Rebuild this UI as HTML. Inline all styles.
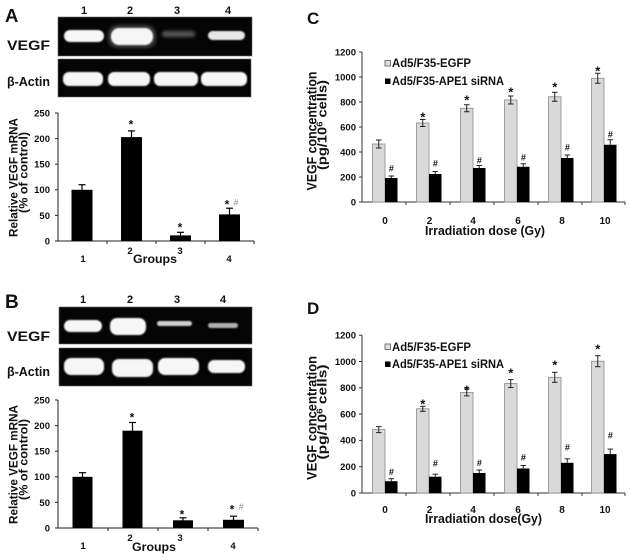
<!DOCTYPE html>
<html><head><meta charset="utf-8"><style>
html,body{margin:0;padding:0;background:#fff;width:630px;height:559px;overflow:hidden}
svg{display:block}
text{font-family:"Liberation Sans",Arial,sans-serif;font-weight:bold;fill:#111}
.t{font-size:9.5px}
.h{font-size:9px;font-style:italic;fill:#888;font-weight:normal}
</style></head><body>
<svg width="630" height="559" viewBox="0 0 630 559" xmlns="http://www.w3.org/2000/svg">
<defs>
<filter id="b1" x="-20%" y="-50%" width="140%" height="200%"><feGaussianBlur stdDeviation="0.9"/></filter>
<filter id="b2" x="-20%" y="-50%" width="140%" height="200%"><feGaussianBlur stdDeviation="1.6"/></filter>
</defs>
<rect width="630" height="559" fill="#fff"/>

<!-- ========== PANEL A ========== -->
<text x="5" y="22" font-size="18.5">A</text>
<g font-size="11" text-anchor="middle">
<text x="84" y="14">1</text><text x="130" y="14">2</text><text x="177" y="14">3</text><text x="228" y="14">4</text>
</g>
<text x="7" y="50" font-size="14" textLength="43" lengthAdjust="spacingAndGlyphs">VEGF</text>
<text x="7" y="86" font-size="13" textLength="43" lengthAdjust="spacingAndGlyphs">β-Actin</text>
<rect x="58" y="17" width="194" height="39" fill="#050505" stroke="#666" stroke-width="0.6"/>
<rect x="58" y="59" width="193" height="38" fill="#050505" stroke="#666" stroke-width="0.6"/>
<rect x="108" y="25" width="48" height="23" rx="10" fill="#777" opacity="0.5" filter="url(#b2)"/>
<rect x="162" y="31" width="33" height="6" rx="3" fill="#555" filter="url(#b2)"/>
<g fill="#f6f6f6" filter="url(#b1)">
<rect x="64" y="30" width="40" height="12" rx="6"/>
<rect x="111" y="28" width="42" height="17" rx="8"/>
<rect x="208" y="31" width="37" height="9" rx="4.5" fill="#e6e6e6"/>
<rect x="63" y="72" width="40" height="14" rx="6"/>
<rect x="108" y="72" width="42" height="14" rx="6"/>
<rect x="154" y="72" width="44" height="14" rx="6"/>
<rect x="201" y="72" width="46" height="14" rx="6"/>
</g>

<!-- A chart -->
<g stroke="#222" stroke-width="1" fill="none">
<line x1="58" y1="113" x2="58" y2="241"/>
<line x1="58" y1="241" x2="254" y2="241"/>
<line x1="55" y1="113" x2="58" y2="113"/><line x1="55" y1="138.6" x2="58" y2="138.6"/><line x1="55" y1="164.2" x2="58" y2="164.2"/>
<line x1="55" y1="189.8" x2="58" y2="189.8"/><line x1="55" y1="215.4" x2="58" y2="215.4"/><line x1="55" y1="241" x2="58" y2="241"/>
<line x1="107" y1="241" x2="107" y2="244"/><line x1="156" y1="241" x2="156" y2="244"/><line x1="205" y1="241" x2="205" y2="244"/><line x1="254" y1="241" x2="254" y2="244"/>
</g>
<g class="t" text-anchor="end">
<text x="50" y="116.5">250</text><text x="50" y="142">200</text><text x="50" y="167.5">150</text>
<text x="50" y="193">100</text><text x="50" y="219">50</text><text x="50" y="244.5">0</text>
</g>
<g fill="#000">
<rect x="71.5" y="189.8" width="21" height="51.2"/>
<rect x="121" y="137.1" width="21" height="103.9"/>
<rect x="170" y="235.4" width="21" height="5.6"/>
<rect x="219" y="214.4" width="21" height="26.6"/>
</g>
<g stroke="#000" stroke-width="1.2">
<line x1="82" y1="184.7" x2="82" y2="190"/><line x1="78.5" y1="184.7" x2="85.5" y2="184.7"/>
<line x1="131.5" y1="130.9" x2="131.5" y2="138"/><line x1="128" y1="130.9" x2="135" y2="130.9"/>
<line x1="180.5" y1="232.3" x2="180.5" y2="236"/><line x1="177" y1="232.3" x2="184" y2="232.3"/>
<line x1="229.5" y1="208.2" x2="229.5" y2="215"/><line x1="226" y1="208.2" x2="233" y2="208.2"/>
</g>
<g font-size="12" text-anchor="middle">
<text x="131" y="128.5">*</text><text x="180" y="231.5">*</text><text x="227" y="208.5">*</text>
</g>
<text class="h" x="236" y="205.5" text-anchor="middle">#</text>
<text transform="translate(17.5,177.5) rotate(-90)" font-size="11.5" text-anchor="middle" textLength="119" lengthAdjust="spacingAndGlyphs">Relative VEGF mRNA</text>
<text transform="translate(27.5,172.5) rotate(-90)" font-size="11.5" text-anchor="middle" textLength="81" lengthAdjust="spacingAndGlyphs">(% of control)</text>
<g font-size="9.5" text-anchor="middle">
<text x="83" y="262">1</text><text x="130" y="254">2</text><text x="180" y="254">3</text><text x="229" y="262">4</text>
</g>
<text x="155" y="263" font-size="12" text-anchor="middle" textLength="44" lengthAdjust="spacingAndGlyphs">Groups</text>

<!-- ========== PANEL B ========== -->
<text x="5" y="308" font-size="19">B</text>
<g font-size="11" text-anchor="middle">
<text x="83" y="303">1</text><text x="130" y="303">2</text><text x="177" y="303">3</text><text x="223" y="303">4</text>
</g>
<text x="7" y="341" font-size="14" textLength="43" lengthAdjust="spacingAndGlyphs">VEGF</text>
<text x="7" y="376" font-size="13" textLength="43" lengthAdjust="spacingAndGlyphs">β-Actin</text>
<rect x="59" y="307" width="193" height="37" fill="#050505" stroke="#666" stroke-width="0.6"/>
<rect x="59" y="348" width="193" height="38" fill="#050505" stroke="#666" stroke-width="0.6"/>
<g fill="#f6f6f6" filter="url(#b1)">
<rect x="64" y="320" width="38" height="12" rx="6"/>
<rect x="110" y="318" width="36" height="17" rx="7"/>
<rect x="157" y="321" width="35" height="5" rx="2.5" fill="#cfcfcf"/>
<rect x="208" y="323" width="30" height="5" rx="2.5" fill="#b0b0b0"/>
<rect x="64" y="358" width="40" height="17" rx="7"/>
<rect x="112" y="359" width="41" height="18" rx="7"/>
<rect x="158" y="358" width="41" height="17" rx="7"/>
<rect x="208" y="360" width="37" height="13" rx="6"/>
</g>

<!-- B chart -->
<g stroke="#222" stroke-width="1" fill="none">
<line x1="58" y1="400" x2="58" y2="528"/>
<line x1="58" y1="528" x2="258" y2="528"/>
<line x1="55" y1="400" x2="58" y2="400"/><line x1="55" y1="425.6" x2="58" y2="425.6"/><line x1="55" y1="451.2" x2="58" y2="451.2"/>
<line x1="55" y1="476.8" x2="58" y2="476.8"/><line x1="55" y1="502.4" x2="58" y2="502.4"/><line x1="55" y1="528" x2="58" y2="528"/>
<line x1="108" y1="528" x2="108" y2="531"/><line x1="158" y1="528" x2="158" y2="531"/><line x1="208" y1="528" x2="208" y2="531"/><line x1="258" y1="528" x2="258" y2="531"/>
</g>
<g class="t" text-anchor="end">
<text x="50" y="403.5">250</text><text x="50" y="429">200</text><text x="50" y="454.5">150</text>
<text x="50" y="480">100</text><text x="50" y="506">50</text><text x="50" y="531.5">0</text>
</g>
<g fill="#000">
<rect x="72.5" y="476.8" width="20" height="51.2"/>
<rect x="122.5" y="430.7" width="20" height="97.3"/>
<rect x="173" y="520.3" width="20" height="7.7"/>
<rect x="223" y="519.8" width="21" height="8.2"/>
</g>
<g stroke="#000" stroke-width="1.2">
<line x1="82.5" y1="472.7" x2="82.5" y2="477"/><line x1="79" y1="472.7" x2="86" y2="472.7"/>
<line x1="132.5" y1="422.5" x2="132.5" y2="431"/><line x1="129" y1="422.5" x2="136" y2="422.5"/>
<line x1="183" y1="517.8" x2="183" y2="521"/><line x1="179.5" y1="517.8" x2="186.5" y2="517.8"/>
<line x1="233.5" y1="516.2" x2="233.5" y2="520"/><line x1="230" y1="516.2" x2="237" y2="516.2"/>
</g>
<g font-size="12" text-anchor="middle">
<text x="132" y="421.5">*</text><text x="182" y="518.5">*</text><text x="232" y="513.5">*</text>
</g>
<text class="h" x="241" y="510" text-anchor="middle">#</text>
<text transform="translate(17.5,464.5) rotate(-90)" font-size="11.5" text-anchor="middle" textLength="119" lengthAdjust="spacingAndGlyphs">Relative VEGF mRNA</text>
<text transform="translate(27.5,459.5) rotate(-90)" font-size="11.5" text-anchor="middle" textLength="81" lengthAdjust="spacingAndGlyphs">(% of control)</text>
<g font-size="9.5" text-anchor="middle">
<text x="83" y="549">1</text><text x="130" y="541">2</text><text x="180" y="541">3</text><text x="233" y="549">4</text>
</g>
<text x="154" y="551" font-size="12" text-anchor="middle" textLength="44" lengthAdjust="spacingAndGlyphs">Groups</text>

<!-- ========== PANEL C ========== -->
<text x="307" y="24" font-size="17">C</text>
<g stroke="#333" stroke-width="1" fill="none">
<line x1="362" y1="52" x2="362" y2="202"/>
<line x1="362" y1="202" x2="625" y2="202"/>
<line x1="359" y1="52" x2="362" y2="52"/><line x1="359" y1="77" x2="362" y2="77"/><line x1="359" y1="102" x2="362" y2="102"/>
<line x1="359" y1="127" x2="362" y2="127"/><line x1="359" y1="152" x2="362" y2="152"/><line x1="359" y1="177" x2="362" y2="177"/><line x1="359" y1="202" x2="362" y2="202"/>
<line x1="406" y1="202" x2="406" y2="205"/><line x1="450" y1="202" x2="450" y2="205"/><line x1="494" y1="202" x2="494" y2="205"/>
<line x1="538" y1="202" x2="538" y2="205"/><line x1="582" y1="202" x2="582" y2="205"/><line x1="625" y1="202" x2="625" y2="205"/>
</g>
<g class="t" text-anchor="end">
<text x="356" y="55.3">1200</text><text x="356" y="80.3">1000</text><text x="356" y="105.3">800</text><text x="356" y="130.3">600</text>
<text x="356" y="155.3">400</text><text x="356" y="180.3">200</text><text x="356" y="205.3">0</text>
</g>
<g fill="#d9d9d9" stroke="#8a8a8a" stroke-width="0.8">
<rect x="372.5" y="144" width="12.5" height="58"/>
<rect x="416.5" y="123" width="12.5" height="79"/>
<rect x="460.5" y="108.25" width="12.5" height="93.75"/>
<rect x="504.5" y="100" width="12.5" height="102"/>
<rect x="548.5" y="96.75" width="12.5" height="105.25"/>
<rect x="591.5" y="78.25" width="12.5" height="123.75"/>
</g>
<g fill="#000">
<rect x="385" y="178" width="12.5" height="24"/>
<rect x="429" y="174" width="12.5" height="28"/>
<rect x="473" y="168" width="12.5" height="34"/>
<rect x="517" y="166.75" width="12.5" height="35.25"/>
<rect x="561" y="158" width="12.5" height="44"/>
<rect x="604" y="144.75" width="12.5" height="57.25"/>
</g>
<g stroke="#222" stroke-width="1">
<line x1="378.75" y1="140" x2="378.75" y2="148"/><line x1="376" y1="140" x2="381.5" y2="140"/><line x1="376" y1="148" x2="381.5" y2="148"/>
<line x1="422.75" y1="119.5" x2="422.75" y2="126.5"/><line x1="420" y1="119.5" x2="425.5" y2="119.5"/><line x1="420" y1="126.5" x2="425.5" y2="126.5"/>
<line x1="466.75" y1="104.75" x2="466.75" y2="111.75"/><line x1="464" y1="104.75" x2="469.5" y2="104.75"/><line x1="464" y1="111.75" x2="469.5" y2="111.75"/>
<line x1="510.75" y1="96" x2="510.75" y2="104"/><line x1="508" y1="96" x2="513.5" y2="96"/><line x1="508" y1="104" x2="513.5" y2="104"/>
<line x1="554.75" y1="92.25" x2="554.75" y2="101.25"/><line x1="552" y1="92.25" x2="557.5" y2="92.25"/><line x1="552" y1="101.25" x2="557.5" y2="101.25"/>
<line x1="597.75" y1="73.25" x2="597.75" y2="83.25"/><line x1="595" y1="73.25" x2="600.5" y2="73.25"/><line x1="595" y1="83.25" x2="600.5" y2="83.25"/>
<line x1="391.25" y1="176" x2="391.25" y2="178"/><line x1="388.5" y1="176" x2="394" y2="176"/>
<line x1="435.25" y1="171.5" x2="435.25" y2="174"/><line x1="432.5" y1="171.5" x2="438" y2="171.5"/>
<line x1="479.25" y1="165.5" x2="479.25" y2="168"/><line x1="476.5" y1="165.5" x2="482" y2="165.5"/>
<line x1="523.25" y1="163.75" x2="523.25" y2="166.75"/><line x1="520.5" y1="163.75" x2="526" y2="163.75"/>
<line x1="567.25" y1="155" x2="567.25" y2="158"/><line x1="564.5" y1="155" x2="570" y2="155"/>
<line x1="610.25" y1="139.75" x2="610.25" y2="144.75"/><line x1="607.5" y1="139.75" x2="613" y2="139.75"/>
</g>
<g font-size="13" text-anchor="middle">
<text x="422.75" y="121.5">*</text><text x="466.75" y="104.5">*</text><text x="510.75" y="96.5">*</text>
<text x="554.75" y="91.5">*</text><text x="597.75" y="75.5">*</text>
</g>
<g class="h" text-anchor="middle">
<text x="391.25" y="171.3">#</text><text x="435.25" y="166.3">#</text><text x="479.25" y="163.3">#</text>
<text x="523.25" y="160.3">#</text><text x="567.25" y="150.3">#</text><text x="610.25" y="137.3">#</text>
</g>
<rect x="385" y="60.5" width="5.5" height="5.5" fill="#e0e0e0" stroke="#555" stroke-width="0.8"/>
<rect x="385" y="78.5" width="5.5" height="5.5" fill="#000"/>
<text x="392" y="67" font-size="11.5" textLength="79" lengthAdjust="spacingAndGlyphs">Ad5/F35-EGFP</text>
<text x="392" y="85" font-size="11.5" textLength="112" lengthAdjust="spacingAndGlyphs">Ad5/F35-APE1 siRNA</text>
<g font-size="10" text-anchor="middle">
<text x="385" y="224">0</text><text x="429.5" y="224">2</text><text x="473" y="224">4</text>
<text x="518" y="224">6</text><text x="562" y="224">8</text><text x="605" y="224">10</text>
</g>
<text x="485" y="235" font-size="13" text-anchor="middle" textLength="120" lengthAdjust="spacingAndGlyphs">Irradiation dose (Gy)</text>
<text transform="translate(316.5,131) rotate(-90)" font-size="13.5" text-anchor="middle" textLength="119" lengthAdjust="spacingAndGlyphs">VEGF concentration</text>
<text transform="translate(326.5,125) rotate(-90)" font-size="12.5" text-anchor="middle" textLength="90" lengthAdjust="spacingAndGlyphs">(pg/10<tspan font-size="8" dy="-4">6</tspan><tspan dy="4"> cells)</tspan></text>

<!-- ========== PANEL D ========== -->
<text x="307" y="314" font-size="17">D</text>
<g stroke="#333" stroke-width="1" fill="none">
<line x1="362" y1="335.2" x2="362" y2="493"/>
<line x1="362" y1="493" x2="625" y2="493"/>
<line x1="359" y1="335.2" x2="362" y2="335.2"/><line x1="359" y1="361.5" x2="362" y2="361.5"/><line x1="359" y1="387.8" x2="362" y2="387.8"/>
<line x1="359" y1="414.1" x2="362" y2="414.1"/><line x1="359" y1="440.4" x2="362" y2="440.4"/><line x1="359" y1="466.7" x2="362" y2="466.7"/><line x1="359" y1="493" x2="362" y2="493"/>
<line x1="406" y1="493" x2="406" y2="496"/><line x1="450" y1="493" x2="450" y2="496"/><line x1="494" y1="493" x2="494" y2="496"/>
<line x1="538" y1="493" x2="538" y2="496"/><line x1="582" y1="493" x2="582" y2="496"/><line x1="625" y1="493" x2="625" y2="496"/>
</g>
<g class="t" text-anchor="end">
<text x="356" y="338.5">1200</text><text x="356" y="364.8">1000</text><text x="356" y="391.1">800</text><text x="356" y="417.4">600</text>
<text x="356" y="443.7">400</text><text x="356" y="470">200</text><text x="356" y="496.3">0</text>
</g>
<g fill="#d9d9d9" stroke="#8a8a8a" stroke-width="0.8">
<rect x="372.5" y="429.6" width="12.5" height="63.4"/>
<rect x="416.5" y="408.8" width="12.5" height="84.2"/>
<rect x="460.5" y="392.4" width="12.5" height="100.6"/>
<rect x="504.5" y="383.6" width="12.5" height="109.4"/>
<rect x="548.5" y="377.3" width="12.5" height="115.7"/>
<rect x="591.5" y="361.2" width="12.5" height="131.8"/>
</g>
<g fill="#000">
<rect x="385" y="481.2" width="12.5" height="11.8"/>
<rect x="429" y="476.7" width="12.5" height="16.3"/>
<rect x="473" y="473" width="12.5" height="20"/>
<rect x="517" y="468.5" width="12.5" height="24.5"/>
<rect x="561" y="462.8" width="12.5" height="30.2"/>
<rect x="604" y="454.1" width="12.5" height="38.9"/>
</g>
<g stroke="#222" stroke-width="1">
<line x1="378.75" y1="426.6" x2="378.75" y2="432.6"/><line x1="376" y1="426.6" x2="381.5" y2="426.6"/><line x1="376" y1="432.6" x2="381.5" y2="432.6"/>
<line x1="422.75" y1="406.3" x2="422.75" y2="411.3"/><line x1="420" y1="406.3" x2="425.5" y2="406.3"/><line x1="420" y1="411.3" x2="425.5" y2="411.3"/>
<line x1="466.75" y1="388.9" x2="466.75" y2="395.9"/><line x1="464" y1="388.9" x2="469.5" y2="388.9"/><line x1="464" y1="395.9" x2="469.5" y2="395.9"/>
<line x1="510.75" y1="379.6" x2="510.75" y2="387.6"/><line x1="508" y1="379.6" x2="513.5" y2="379.6"/><line x1="508" y1="387.6" x2="513.5" y2="387.6"/>
<line x1="554.75" y1="372.3" x2="554.75" y2="382.3"/><line x1="552" y1="372.3" x2="557.5" y2="372.3"/><line x1="552" y1="382.3" x2="557.5" y2="382.3"/>
<line x1="597.75" y1="355.7" x2="597.75" y2="366.7"/><line x1="595" y1="355.7" x2="600.5" y2="355.7"/><line x1="595" y1="366.7" x2="600.5" y2="366.7"/>
<line x1="391.25" y1="478.7" x2="391.25" y2="481.2"/><line x1="388.5" y1="478.7" x2="394" y2="478.7"/>
<line x1="435.25" y1="474.2" x2="435.25" y2="476.7"/><line x1="432.5" y1="474.2" x2="438" y2="474.2"/>
<line x1="479.25" y1="470" x2="479.25" y2="473"/><line x1="476.5" y1="470" x2="482" y2="470"/>
<line x1="523.25" y1="465.5" x2="523.25" y2="468.5"/><line x1="520.5" y1="465.5" x2="526" y2="465.5"/>
<line x1="567.25" y1="458.8" x2="567.25" y2="462.8"/><line x1="564.5" y1="458.8" x2="570" y2="458.8"/>
<line x1="610.25" y1="449.1" x2="610.25" y2="454.1"/><line x1="607.5" y1="449.1" x2="613" y2="449.1"/>
</g>
<g font-size="13" text-anchor="middle">
<text x="422.75" y="408.5">*</text><text x="466.75" y="394.5">*</text><text x="510.75" y="377.5">*</text>
<text x="554.75" y="369.5">*</text><text x="597.75" y="353.5">*</text>
</g>
<g class="h" text-anchor="middle">
<text x="391.25" y="475">#</text><text x="435.25" y="466.3">#</text><text x="479.25" y="466">#</text>
<text x="523.25" y="460.3">#</text><text x="567.25" y="450.3">#</text><text x="610.25" y="438.3">#</text>
</g>
<rect x="385" y="344" width="5.5" height="5.5" fill="#e0e0e0" stroke="#555" stroke-width="0.8"/>
<rect x="385" y="361.5" width="5.5" height="5.5" fill="#000"/>
<text x="392" y="351" font-size="11.5" textLength="79" lengthAdjust="spacingAndGlyphs">Ad5/F35-EGFP</text>
<text x="392" y="368" font-size="11.5" textLength="112" lengthAdjust="spacingAndGlyphs">Ad5/F35-APE1 siRNA</text>
<g font-size="10" text-anchor="middle">
<text x="385" y="513">0</text><text x="429.5" y="513">2</text><text x="473" y="513">4</text>
<text x="518" y="513">6</text><text x="562" y="513">8</text><text x="605" y="513">10</text>
</g>
<text x="483.5" y="523" font-size="13" text-anchor="middle" textLength="117" lengthAdjust="spacingAndGlyphs">Irradiation dose(Gy)</text>
<text transform="translate(316.5,418) rotate(-90)" font-size="13.5" text-anchor="middle" textLength="124" lengthAdjust="spacingAndGlyphs">VEGF concentration</text>
<text transform="translate(326.5,412) rotate(-90)" font-size="12.5" text-anchor="middle" textLength="95" lengthAdjust="spacingAndGlyphs">(pg/10<tspan font-size="8" dy="-4">6</tspan><tspan dy="4"> cells)</tspan></text>
</svg>
</body></html>
